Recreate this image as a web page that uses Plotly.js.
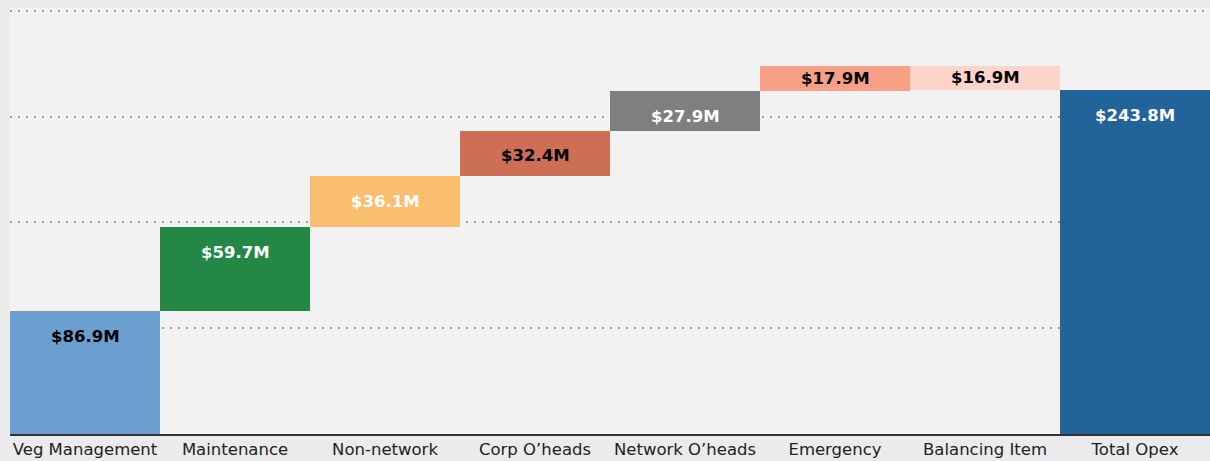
<!DOCTYPE html>
<html>
<head>
<meta charset="utf-8">
<script src="https://cdn.plot.ly/plotly-3.0.1.min.js"></script>
<style>html,body{margin:0;padding:0;background:#ebebeb;}#chart{width:1210px;height:461px;}</style>
</head>
<body>
<div id="chart"></div>
<script>
// Data
const categories = ["Veg Management", "Maintenance", "Non-network", "Corp O\u2019heads", "Network O\u2019heads", "Emergency", "Balancing Item", "Total Opex"];
const steps = [86.9, 59.7, 36.1, 32.4, 27.9, 17.9, -16.9];
const totalValue = 243.8;
const barColors = ["#6b9fcf", "#238846", "#f9bf6e", "#cc6f55", "#7f7f7f", "#f8a085", "#fdd4ca", "#226499"];
const labelColors = ["#000000", "#ffffff", "#ffffff", "#000000", "#ffffff", "#000000", "#000000", "#ffffff"];
const gridValues = [75, 150, 225, 300];

// Build waterfall as floating bars
const bases = [], heights = [];
let cum = 0;
steps.forEach(v => { bases.push(cum); heights.push(v); cum += v; });
bases.push(0); heights.push(totalValue);

const annotations = categories.map((c, i) => {
  const b = bases[i], h = heights[i];
  const top = Math.max(b, b + h), bottom = Math.min(b, b + h);
  const size = top - bottom;
  const ly = size > 20 ? top - 18 : (top + bottom) / 2;
  return {
    x: c, y: ly, xref: 'x', yref: 'y', showarrow: false,
    text: '$' + Math.abs(h).toFixed(1) + 'M',
    font: {family: 'DejaVu Sans', size: 16.5, weight: 'bold', color: labelColors[i]},
    xanchor: 'center', yanchor: 'middle'
  };
});

const trace = {
  type: 'bar', x: categories, y: heights, base: bases,
  marker: {color: barColors, line: {width: 0}},
  hoverinfo: 'skip', width: 1
};

const layout = {
  width: 1210, height: 461,
  margin: {l: 10, r: 0, t: 8, b: 27, pad: 0},
  paper_bgcolor: '#ebebeb', plot_bgcolor: '#f2f2f2',
  bargap: 0, showlegend: false,
  font: {family: 'DejaVu Sans', size: 16.5, color: '#222222'},
  xaxis: {
    type: 'category', showgrid: false, showline: true, linecolor: '#333333', linewidth: 1.5,
    layer: 'below traces', ticks: '', ticklabelstandoff: 0,
    tickfont: {family: 'DejaVu Sans', size: 16.5, color: '#222222'},
    fixedrange: true
  },
  yaxis: {
    range: [0, 302], tickvals: gridValues, showticklabels: false, showgrid: true,
    gridcolor: '#9c9c9c', gridwidth: 2, griddash: '2px,6px', zeroline: false, showline: false,
    fixedrange: true
  },
  annotations: annotations
};

Plotly.newPlot('chart', [trace], layout, {displayModeBar: false, staticPlot: true});
</script>
</body>
</html>
